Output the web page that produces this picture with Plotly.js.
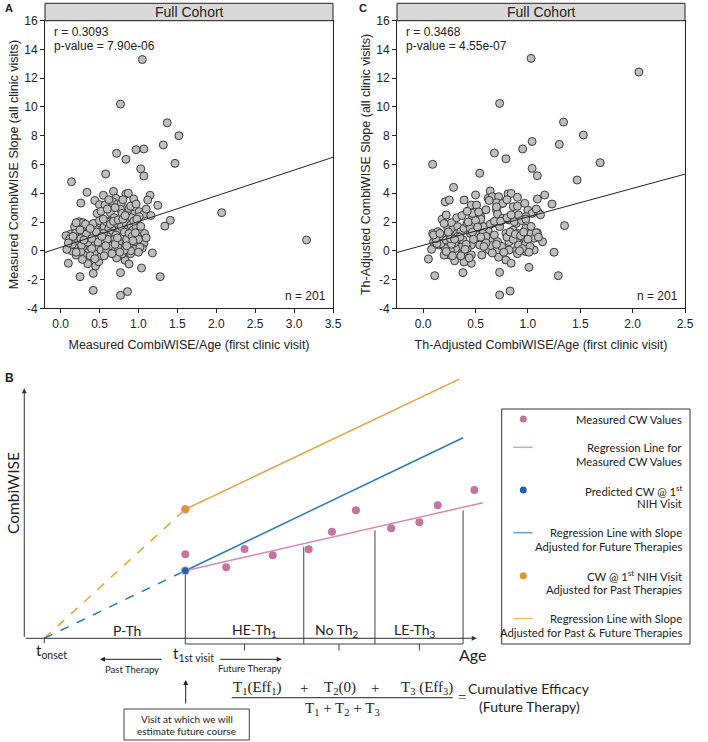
<!DOCTYPE html>
<html><head><meta charset="utf-8">
<script src="https://cdn.plot.ly/plotly-3.0.1.min.js"></script>
<style>html,body{margin:0;padding:0;background:#fff}#chart{width:708px;height:742px}</style>
</head><body><div id="chart"></div>
<script>
// ---------- Panel A data: Measured CombiWISE/Age vs measured slope ----------
const aX = [1.05,0.77,1.37,1.52,1.32,0.97,1.07,0.72,0.84,1.47,1.03,1.07,0.58,0.14,0.34,0.26,0.44,0.50,0.55,0.68,0.71,0.84,0.87,0.94,1.15,1.12,1.25,2.07,1.41,1.34,3.16,1.18,1.28,1.04,0.25,0.42,0.42,0.77,0.77,0.86,0.10,0.83,0.88,
 0.57,0.67,0.73,0.78,0.77,0.64,0.79,0.86,0.88,0.95,1.01,1.07,1.01,0.91,0.69,0.62,
 0.24,0.29,0.34,0.18,0.31,0.36,0.13,0.19,0.24,0.28,0.34,0.41,0.44,0.49,0.51,0.56,0.59,0.62,0.64,0.69,0.72,0.75,0.78,0.84,0.87,0.90,0.93,0.97,1.01,1.04,0.99,1.07,1.05,0.97,0.90,0.86,0.79,0.75,0.71,0.67,0.62,0.67,0.79,0.32,0.45,0.49,0.50,0.43,0.36,0.29,0.24,0.14,0.17,0.30,0.26,0.47,0.54,0.52,0.59,0.07,0.08,
 0.2,0.18,0.22,0.3,0.38,0.4,0.45,0.42,0.5,0.55,0.6,0.65,0.7,0.72,0.74,0.8,0.82,0.85,0.88,0.92,0.95,1.0,1.02,1.0,0.9,0.7,0.6,0.55,0.4,0.38,0.33,0.27,0.2,0.15,0.12,0.1,0.46,0.48,0.58,0.64,0.68,0.74,0.8,0.83,0.94,0.98,1.03,1.08,1.1,0.96,0.9,0.82,0.76,0.66,0.56,0.44,0.35,0.28,0.2,0.26,0.32,0.38,0.47,0.52,0.6,0.62,0.7,0.8,0.9,0.97,1.1,1.16,0.35,0.4,0.3,0.25,0.16,0.53,0.73,0.93,0.85];
const aY = [13.3,10.2,8.9,8.0,7.36,7.03,7.08,6.78,6.36,6.08,5.7,5.2,5.34,4.8,4.07,3.32,3.5,3.2,3.86,4.13,3.65,3.95,4.0,3.6,3.86,3.53,3.16,2.65,2.12,1.72,0.75,-0.15,-1.8,-1.2,-1.8,-1.57,-2.75,-1.52,-3.1,-2.84,-0.87,-0.66,-0.92,
 3.18,3.41,3.25,3.3,2.88,2.65,2.6,2.65,2.95,2.56,2.72,2.55,2.37,2.3,2.3,2.05,
 2.02,1.95,1.68,1.68,1.44,1.33,1.17,1.21,0.93,1.2,0.98,1.1,0.8,1.79,1.44,1.68,2.02,1.56,1.21,1.68,1.91,1.44,1.68,1.91,1.56,1.79,1.44,1.68,1.33,0.98,0.98,0.52,0.17,0.29,0.52,-0.06,0.29,0.63,1.1,0.75,0.52,0.05,-0.22,-0.53,-1.06,-0.76,-0.36,-0.18,0.05,0.29,0.56,0.01,0.75,-0.3,-0.06,0.29,0.47,0.05,-0.06,1.05,0.1,
 -0.3,0.4,0.7,0.55,0.7,0.4,1.5,1.9,2.1,2.2,1.0,0.35,0.0,-0.5,0.2,1.0,1.3,0.8,1.2,1.0,0.1,0.8,0.25,-0.1,-0.2,0.45,0.8,1.2,0.15,-0.35,1.15,0.4,1.95,0.45,0.85,0.55,1.3,0.6,0.35,1.85,2.05,2.15,2.2,2.45,2.05,2.2,1.7,1.2,0.9,1.25,0.0,0.05,-0.1,-0.2,-0.35,-0.55,-0.9,-0.6,-0.1,0.85,1.85,1.55,2.6,2.75,2.9,3.55,3.0,3.55,3.1,3.25,2.9,2.45,0.6,0.85,0.75,1.45,1.0,1.0,0.9,0.7,0.35];
const aFit = {slope: 1.79, intercept: 0.24};
const aStats = ['r = 0.3093', 'p-value = 7.90e-06', 'n = 201'];

// ---------- Panel C data: Th-adjusted ----------
const cX = [1.03,0.73,2.06,1.34,1.53,1.30,1.04,0.95,0.68,0.79,1.69,0.09,1.04,1.09,0.54,1.47,0.29,1.35,1.23,1.16,1.09,1.25,1.29,1.01,0.73,0.73,0.83,0.11,0.38,0.05,0.46,0.39,0.79,0.84,
 0.21,0.25,0.39,0.46,0.51,0.50,0.64,0.62,0.66,0.72,0.74,0.81,0.84,0.90,0.70,0.76,0.70,0.71,0.86,0.91,1.0,1.04,1.10,0.98,0.55,0.54,0.47,
 0.18,0.22,0.09,0.14,0.18,0.23,0.27,0.28,0.33,0.32,0.36,0.39,0.42,0.45,0.49,0.52,0.50,0.46,0.42,0.37,0.31,0.26,0.21,0.15,0.08,0.10,0.25,0.38,0.46,
 0.59,0.63,0.64,0.68,0.62,0.66,0.73,0.71,0.76,0.74,0.82,0.79,0.86,0.89,0.90,0.94,0.98,0.97,1.03,1.06,1.09,1.14,1.06,0.98,0.89,0.91,0.98,0.54,0.58,0.55,0.76,0.82,0.87,
 0.2,0.17,0.22,0.3,0.38,0.41,0.45,0.43,0.5,0.57,0.6,0.65,0.7,0.72,0.75,0.8,0.83,0.86,0.88,0.93,0.95,1.0,1.02,1.01,0.9,0.7,0.6,0.55,0.4,0.36,0.33,0.27,0.2,0.13,0.12,0.1,0.47,0.48,0.58,0.64,0.68,0.74,0.8,0.84,0.94,0.98,1.03,1.08,1.1,0.96,0.92,0.82,0.77,0.66,0.56,0.44,0.3,0.28,0.22,0.26,0.32,0.37,0.47,0.53,0.6,0.63,0.7,0.8,0.9,0.97,1.08,1.12,0.35,0.42,0.3,0.24,0.16,0.52];
const cY = [13.38,10.25,12.43,8.95,8.05,7.4,7.6,7.08,6.8,6.4,6.13,6.01,5.73,5.22,5.39,4.92,4.41,1.75,3.25,3.88,3.6,-0.1,-1.73,-1.15,-1.5,-3.07,-2.8,-1.73,-1.52,-0.57,-0.87,-0.78,-0.64,-0.87,
 3.41,3.53,3.53,3.18,3.18,3.88,4.16,3.65,3.76,3.76,3.25,3.95,3.99,3.72,3.34,3.3,2.83,2.56,3.07,2.49,2.83,2.6,2.65,2.37,2.37,2.14,2.37,
 2.19,2.49,1.21,1.33,0.98,1.68,1.95,1.44,1.68,1.17,1.33,1.56,1.91,1.21,1.44,1.1,0.63,0.4,0.17,0.29,0.17,0.05,0.17,0.4,0.1,0.63,-0.29,-0.18,-0.29,
 0.75,0.05,0.75,1.1,1.44,1.91,1.68,0.63,0.17,-0.18,0.63,1.21,1.44,1.91,1.21,0.98,1.56,0.63,1.21,0.87,1.26,0.63,0.05,-0.06,0.05,0.4,0.52,0.4,1.68,2.19,2.26,2.14,2.02,
 -0.3,0.5,0.75,0.55,0.75,0.45,1.55,2.0,2.1,1.2,1.0,0.35,0.0,-0.45,0.3,0.95,1.3,0.8,1.15,1.05,0.15,0.8,0.3,-0.1,-0.2,0.45,0.55,0.95,0.1,-0.35,1.0,0.45,1.9,0.5,0.85,1.1,1.3,0.8,0.3,1.85,2.05,2.05,2.3,2.5,2.1,2.2,1.7,1.25,0.95,1.3,0.0,0.05,-0.1,-0.15,-0.3,-0.5,-0.7,-0.35,-0.05,0.85,2.3,2.45,2.6,2.7,2.85,3.5,3.05,3.55,3.1,3.3,2.9,2.5,0.95,2.75,0.8,1.3,1.2,1.65];
const cFit = {slope: 1.98, intercept: 0.38};
const cStats = ['r = 0.3468', 'p-value = 4.55e-07', 'n = 201'];

// ---------- axes ticks / ranges ----------
const aXRange = [-0.2, 3.5], cXRange = [-0.25, 2.5], yRange = [-4, 16];
const aXTicks = [0, 0.5, 1, 1.5, 2, 2.5, 3, 3.5];
const cXTicks = [0, 0.5, 1, 1.5, 2, 2.5];
const yTicks = [-4, -2, 0, 2, 4, 6, 8, 10, 12, 14, 16];
const stripTitle = 'Full Cohort';
const aTitles = {x: 'Measured CombiWISE/Age (first clinic visit)', y: 'Measured CombiWISE Slope (all clinic visits)'};
const cTitles = {x: 'Th-Adjusted CombiWISE/Age (first clinic visit)', y: 'Th-Adjusted CombiWISE Slope (all clinic visits)'};

// ---------- Panel B schematic (arbitrary age / CombiWISE units) ----------
const bAge = [10.0, 12.9, 14.2, 16.2, 18.75, 20.4, 22.1, 24.6, 26.6, 27.9, 30.5];
const bCW  = [8.4, 7.1, 8.93, 8.3, 8.9, 10.66, 12.8, 11.0, 11.6, 13.3, 14.83];
const tOnset = 0, tVisit = 10;
const cwPredVisit = 6.76, cwAdjVisit = 12.9;
const slopeMeasured = 0.322, slopeFuture = 0.675, slopePastFuture = 0.67;
const endMeasured = 31.1, endFuture = 29.7, endPastFuture = 29.43;
const segBounds = [10, 18.4, 23.45, 29.7];
const segTicks = [14.2, 20.9, 26.6];
const segLabels = ['P-Th', 'HE-Th<sub>1</sub>', 'No Th<sub>2</sub>', 'LE-Th<sub>3</sub>'];
const segLabelAge = [5.84, 14.94, 20.74, 26.3];
const axisAgeMin = -1.42, axisAgeMax = 30.67, axisCWMax = 25.0, boxBottom = -0.57;

const W = 708, H = 742;
const fx = p => p / W, fy = p => 1 - p / H;
const fmt1 = v => v.toFixed(1);
const tickStr = v => String(v);

const F = 'Liberation Sans, Arial, sans-serif';
const FB = 'Lato, Open Sans, sans-serif';
const FS = 'Liberation Serif, DejaVu Serif, serif';

const pink = '#c3769f', pinkLine = '#d688b6', blue = '#1c64ad', blueLine = '#2a7cb9', orange = '#e6922e', orangeLine = '#e8a33a';

const ptStyle = {size: 8, color: '#bebebe', line: {color: '#3a3a3a', width: 1}};

function fitLine(fit, range, xa, ya) {
  return {x: range, y: range.map(v => fit.intercept + fit.slope * v), xaxis: xa, yaxis: ya,
    mode: 'lines', line: {color: '#222', width: 1}, hoverinfo: 'skip', cliponaxis: true};
}

const traces = [
  {x: aX, y: aY, xaxis: 'x', yaxis: 'y', mode: 'markers', type: 'scatter', marker: ptStyle, cliponaxis: false},
  fitLine(aFit, aXRange, 'x', 'y'),
  {x: cX, y: cY, xaxis: 'x2', yaxis: 'y2', mode: 'markers', type: 'scatter', marker: ptStyle, cliponaxis: false},
  fitLine(cFit, cXRange, 'x2', 'y2'),
];

// Panel B traces
const B = {xaxis: 'x3', yaxis: 'y3', hoverinfo: 'skip', cliponaxis: false};
traces.push(Object.assign({x: [tOnset, tVisit], y: [0, cwAdjVisit], mode: 'lines', line: {color: orangeLine, width: 1.5, dash: 'dash'}}, B));
traces.push(Object.assign({x: [tOnset, tVisit], y: [0, cwPredVisit], mode: 'lines', line: {color: blueLine, width: 1.5, dash: 'dash'}}, B));
traces.push(Object.assign({x: [tVisit, endPastFuture], y: [cwAdjVisit, cwAdjVisit + slopePastFuture * (endPastFuture - tVisit)], mode: 'lines', line: {color: orangeLine, width: 1.5}}, B));
traces.push(Object.assign({x: [tVisit, endFuture], y: [cwPredVisit, cwPredVisit + slopeFuture * (endFuture - tVisit)], mode: 'lines', line: {color: blueLine, width: 1.5}}, B));
traces.push(Object.assign({x: [tVisit, endMeasured], y: [cwPredVisit, cwPredVisit + slopeMeasured * (endMeasured - tVisit)], mode: 'lines', line: {color: pinkLine, width: 1.5}}, B));
// segment structure
const vx = [], vy = [];
segBounds.forEach((a, i) => {
  const top = i === 0 ? cwPredVisit : cwPredVisit + slopeMeasured * (a - tVisit) - 0.3;
  vx.push(a, a, null); vy.push(boxBottom, top, null);
});
vx.push(segBounds[0], segBounds[segBounds.length - 1], null); vy.push(boxBottom, boxBottom, null);
segTicks.forEach(a => { vx.push(a, a, null); vy.push(boxBottom, boxBottom - 0.65, null); });
vx.push(tOnset, tOnset, null); vy.push(0, -0.5, null);
traces.push(Object.assign({x: vx, y: vy, mode: 'lines', line: {color: '#444', width: 1}}, B));
traces.push(Object.assign({x: bAge, y: bCW, mode: 'markers', marker: {size: 8, color: pink}}, B));
traces.push(Object.assign({x: [tVisit], y: [cwPredVisit], mode: 'markers', marker: {size: 8, color: blue, line: {color: '#d9a0c4', width: 1}}}, B));
traces.push(Object.assign({x: [tVisit], y: [cwAdjVisit], mode: 'markers', marker: {size: 8, color: orange, line: {color: '#d9a0c4', width: 1}}}, B));

const ann = [];
const shapes = [];
function txt(text, x, y, size, opts) {
  ann.push(Object.assign({text, x: fx(x), y: fy(y), xref: 'paper', yref: 'paper', showarrow: false,
    xanchor: 'center', yanchor: 'middle', font: {family: F, size, color: '#222'}}, opts || {}));
}

// Panel A/C decorations
[[45, 333, aStats, 'A', 3], [397, 685, cStats, 'C', 357]].forEach(([l, r, st, letter, lx]) => {
  shapes.push({type: 'rect', xref: 'paper', yref: 'paper', x0: fx(l), x1: fx(r), y0: fy(20.7), y1: fy(3.3),
    fillcolor: '#d9d9d9', line: {color: '#222', width: 1}});
  txt(stripTitle, (l + r) / 2, 12.3, 14);
  txt(st[0], l + 7, 32, 12, {xanchor: 'left'});
  txt(st[1], l + 7, 45.5, 12, {xanchor: 'left'});
  txt(st[2], r - 5, 296, 12, {xanchor: 'right'});
  txt('<b>' + letter + '</b>', lx, 8, 11, {xanchor: 'left'});
});

// Panel B texts
txt('<b>B</b>', 3, 378, 12, {xanchor: 'left'});
txt('CombiWISE', 13, 493, 15.5, {textangle: -90, font: {family: FB, size: 15.5, color: '#222'}});
const fB = (s) => ({family: FB, size: s, color: '#222'});
segLabels.forEach((s, i) => ann.push({text: s, x: segLabelAge[i], y: 0.8, xref: 'x3', yref: 'y3', showarrow: false,
  xanchor: 'center', yanchor: 'middle', font: fB(14)}));
txt('t<sub>onset</sub>', 51, 651, 15, {font: fB(15)});
txt('t<sub>1st visit</sub>', 194, 654, 15, {font: fB(15)});
txt('Age', 472, 654, 16, {font: fB(16)});
txt('Past Therapy', 132, 669, 9.5, {font: fB(9.5)});
txt('Future Therapy', 250, 668, 9.5, {font: fB(9.5)});
// arrows
ann.push({x: axisAgeMin, y: axisCWMax, ax: axisAgeMin, ay: 0, xref: 'x3', yref: 'y3', axref: 'x3', ayref: 'y3', text: '', showarrow: true, arrowhead: 2, arrowsize: 1, arrowwidth: 1, arrowcolor: '#333', standoff: 0});
ann.push({x: axisAgeMax, y: 0, ax: axisAgeMin, ay: 0, xref: 'x3', yref: 'y3', axref: 'x3', ayref: 'y3', text: '', showarrow: true, arrowhead: 2, arrowsize: 1, arrowwidth: 1, arrowcolor: '#333', standoff: 0});
ann.push({x: fx(100), y: fy(659.3), ax: 63, ay: 0, xref: 'paper', yref: 'paper', text: '', showarrow: true, arrowhead: 2, arrowsize: 1, arrowwidth: 1, arrowcolor: '#222'});
ann.push({x: fx(281.7), y: fy(659.3), ax: -63, ay: 0, xref: 'paper', yref: 'paper', text: '', showarrow: true, arrowhead: 2, arrowsize: 1, arrowwidth: 1, arrowcolor: '#222'});
ann.push({x: fx(185.7), y: fy(680), ax: 0, ay: 25, xref: 'paper', yref: 'paper', text: '', showarrow: true, arrowhead: 2, arrowsize: 1, arrowwidth: 1, arrowcolor: '#222'});
// note box
shapes.push({type: 'rect', xref: 'paper', yref: 'paper', x0: fx(124), x1: fx(249.3), y0: fy(740), y1: fy(709), line: {color: '#444', width: 1}});
txt('Visit at which we will', 186.7, 718.5, 10, {font: fB(10)});
txt('estimate future course', 186.7, 731, 10, {font: fB(10)});
// formula
const fS = {family: FS, size: 15, color: '#222'};
txt('T<sub>1</sub>(Eff<sub>1</sub>)', 257.5, 688, 15, {font: fS});
txt('+', 304, 688, 15, {font: fS});
txt('T<sub>2</sub>(0)', 339.5, 688, 15, {font: fS});
txt('+', 375, 688, 15, {font: fS});
txt('T<sub>3</sub> (Eff<sub>3</sub>)', 427, 688, 15, {font: fS});
shapes.push({type: 'line', xref: 'paper', yref: 'paper', x0: fx(231.7), x1: fx(452.7), y0: fy(697.7), y1: fy(697.7), line: {color: '#222', width: 1}});
txt('T<sub>1</sub> + T<sub>2</sub> + T<sub>3</sub>', 342, 709, 15, {font: fS});
txt('=', 462, 697, 15, {font: fS});
txt('Cumulative Efficacy', 529, 688.5, 14, {font: fB(14)});
txt('(Future Therapy)', 529, 706.5, 14, {font: fB(14)});

// legend of panel B
shapes.push({type: 'rect', xref: 'paper', yref: 'paper', x0: fx(501.7), x1: fx(690), y0: fy(644), y1: fy(409), line: {color: '#333', width: 1}});
const legendItems = [
  {kind: 'dot', color: pink, lines: ['Measured CW Values'], y: 419},
  {kind: 'line', color: '#dc9cc2', lines: ['Regression Line for', 'Measured CW Values'], y: 447.3},
  {kind: 'dot', color: blue, lines: ['Predicted CW @ 1<sup>st</sup>', 'NIH Visit'], y: 490},
  {kind: 'line', color: '#6fa3cf', lines: ['Regression Line with Slope', 'Adjusted for Future Therapies'], y: 532.7},
  {kind: 'dot', color: orange, lines: ['CW @ 1<sup>st</sup> NIH Visit', 'Adjusted for Past Therapies'], y: 575.7},
  {kind: 'line', color: '#f1c453', lines: ['Regression Line with Slope', 'Adjusted for Past & Future Therapies'], y: 618.5},
];
legendItems.forEach(it => {
  if (it.kind === 'dot') {
    shapes.push({type: 'circle', xref: 'paper', yref: 'paper', x0: fx(519.8), x1: fx(526.8), y0: fy(it.y + 3.5), y1: fy(it.y - 3.5), fillcolor: it.color, line: {width: 0}});
  } else {
    shapes.push({type: 'line', xref: 'paper', yref: 'paper', x0: fx(513.3), x1: fx(532.7), y0: fy(it.y), y1: fy(it.y), line: {color: it.color, width: 1.5}});
  }
  it.lines.forEach((l, k) => txt(l, 684, it.y + k * 14, 11.3, {xanchor: 'right', font: fB(11.3)}));
});

const axBase = {showgrid: false, zeroline: false, showline: true, mirror: true, linecolor: '#222', linewidth: 1,
  ticks: 'outside', ticklen: 4, tickcolor: '#222', tickfont: {family: F, size: 12, color: '#222'}, automargin: false};
const titleFont = {family: F, size: 12.5, color: '#222'};
const yDom = [fy(308.3), fy(20.7)];

const layout = {
  width: W, height: H, margin: {l: 0, r: 0, t: 0, b: 0, pad: 0},
  paper_bgcolor: '#fff', plot_bgcolor: 'rgba(0,0,0,0)', showlegend: false,
  xaxis: Object.assign({}, axBase, {domain: [fx(45), fx(333)], range: aXRange, tickvals: aXTicks, ticktext: aXTicks.map(fmt1),
    title: {text: aTitles.x, font: titleFont, standoff: 10}, anchor: 'y'}),
  yaxis: Object.assign({}, axBase, {domain: yDom, range: yRange, tickvals: yTicks, ticktext: yTicks.map(tickStr),
    title: {text: aTitles.y, font: titleFont, standoff: 2}, anchor: 'x'}),
  xaxis2: Object.assign({}, axBase, {domain: [fx(397), fx(685)], range: cXRange, tickvals: cXTicks, ticktext: cXTicks.map(fmt1),
    title: {text: cTitles.x, font: titleFont, standoff: 10}, anchor: 'y2'}),
  yaxis2: Object.assign({}, axBase, {domain: yDom, range: yRange, tickvals: yTicks, ticktext: yTicks.map(tickStr),
    title: {text: cTitles.y, font: titleFont, standoff: 2}, anchor: 'x2'}),
  xaxis3: {domain: [0, 1], range: [-3.142, 47.07], visible: false, fixedrange: true, anchor: 'y3'},
  yaxis3: {domain: [0, fy(360)], range: [-10.37, 27.83], visible: false, fixedrange: true, anchor: 'x3'},
  annotations: ann, shapes: shapes,
};

Plotly.newPlot('chart', traces, layout, {displayModeBar: false, staticPlot: true});
</script></body></html>
